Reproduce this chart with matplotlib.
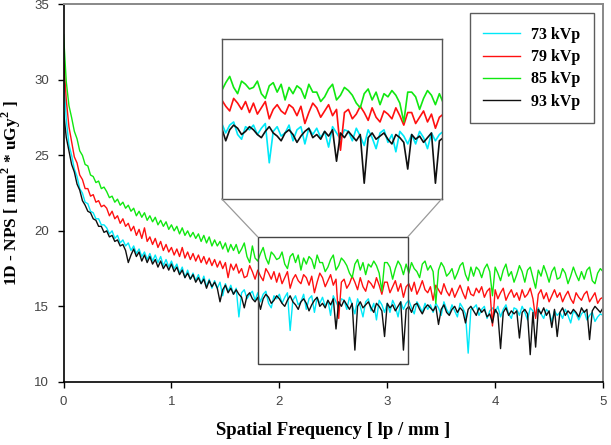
#!/usr/bin/env python3
# -*- coding: utf-8 -*-
import matplotlib

matplotlib.use("Agg")
import matplotlib.pyplot as plt
import numpy as np
from matplotlib.patches import ConnectionPatch, Rectangle

FREQ_STEP = 0.025

nps_73 = [
    30.5, 27.4, 25.7, 25.0, 24.1, 23.6, 22.8, 22.5,
    21.9, 21.8, 21.3, 21.2, 20.8, 20.8, 20.4, 20.4,
    20.2, 19.8, 20.0, 19.5, 19.7, 19.2, 19.4, 19.0,
    19.2, 18.7, 19.0, 18.5, 18.8, 18.3, 18.6, 18.1,
    18.5, 18.0, 18.4, 17.9, 18.3, 17.7, 18.1, 17.6,
    18.0, 17.5, 17.8, 17.2, 17.6, 16.9, 17.4, 16.8,
    17.2, 16.7, 17.1, 16.5, 17.0, 16.3, 16.8, 16.2,
    16.7, 16.2, 16.6, 15.7, 16.5, 16.0, 16.4, 15.8,
    16.2, 14.3, 15.9, 16.1, 15.5, 15.8, 16.0, 15.4,
    15.9, 15.3, 15.8, 16.0, 15.2, 14.9, 15.7, 15.5,
    15.8, 15.2, 15.6, 15.9, 13.4, 15.4, 15.7, 15.1,
    15.3, 15.8, 14.8, 15.5, 15.7, 14.6, 15.6, 15.2,
    15.6, 15.0, 15.4, 14.4, 15.7, 15.3, 14.9, 15.5,
    15.4, 14.8, 15.6, 15.1, 14.5, 15.5, 15.0, 14.3,
    15.3, 15.5, 14.7, 15.2, 14.1, 15.4, 15.1, 14.6,
    15.2, 14.6, 15.4, 15.0, 14.3, 15.3, 14.8, 15.2,
    15.4, 14.9, 14.5, 15.3, 15.0, 14.6, 15.2, 14.8,
    15.1, 14.6, 15.2, 14.9, 14.4, 15.3, 14.8, 14.5,
    15.1, 14.7, 14.3, 15.2, 14.9, 14.5, 11.9, 14.8,
    14.9, 15.1, 14.4, 14.8, 15.0, 14.2, 14.7, 14.9,
    14.6, 15.0, 14.3, 14.8, 15.1, 14.5, 14.2, 14.9,
    14.8, 14.4, 15.0, 14.6, 14.1, 14.9, 14.7, 14.3,
    14.9, 14.5, 14.2, 14.8, 14.6, 14.0, 14.7, 14.4,
    14.6, 14.2, 14.8, 14.4, 13.9, 14.7, 14.5, 14.1,
    14.5, 14.7, 14.1, 14.4, 14.6, 14.0, 14.3, 14.5,
    14.4,
]

nps_79 = [
    31.5, 28.7, 26.9, 25.9, 24.9, 24.5, 23.7, 23.4,
    22.8, 22.8, 22.3, 22.4, 21.9, 22.0, 21.6, 21.7,
    21.5, 21.0, 21.3, 20.8, 21.0, 20.5, 20.8, 20.3,
    20.5, 20.0, 20.3, 19.7, 20.1, 19.5, 20.2, 19.3,
    19.6, 19.1, 19.5, 18.9, 19.3, 18.7, 19.1, 18.6,
    18.9, 18.4, 18.8, 18.3, 18.9, 18.2, 18.6, 18.1,
    18.5, 18.0, 18.4, 17.9, 18.3, 17.8, 18.2, 17.7,
    18.1, 17.6, 18.0, 17.5, 17.9, 16.9, 17.8, 17.4,
    17.8, 17.2, 17.5, 16.9, 17.0, 17.7, 17.3, 16.8,
    17.4, 17.0, 16.7, 17.5, 17.2, 16.8, 17.3, 16.6,
    17.2, 16.5, 16.9, 17.3, 16.2, 16.8, 17.1, 16.7,
    16.5, 17.1, 16.9, 16.4, 17.0, 15.9, 16.6, 17.2,
    16.9, 16.3, 16.7, 17.1, 16.4, 16.8, 14.2, 16.6,
    16.8, 16.2, 16.5, 17.0, 16.6, 16.1, 16.9, 16.3,
    16.0, 16.7, 16.5, 16.2, 16.9, 16.4, 15.8, 16.6,
    16.6, 15.9, 16.3, 16.7, 16.0, 16.5, 15.6, 16.3,
    16.5, 16.0, 16.6, 15.8, 16.2, 16.7, 16.1, 15.9,
    16.3, 15.4, 16.4, 16.1, 15.8, 16.5, 16.0, 15.7,
    16.2, 15.6, 16.0, 16.4, 15.9, 15.5, 16.3, 15.8,
    15.7, 16.2, 15.9, 16.3, 15.6, 16.0, 16.2, 13.7,
    16.1, 15.5, 15.9, 16.2, 15.4, 15.8, 16.1, 15.6,
    15.9, 15.4, 16.1, 15.6, 15.8, 16.2, 15.5, 14.2,
    15.8, 16.1, 15.5, 15.9, 15.3, 15.7, 16.1, 15.6,
    15.9, 15.3, 15.7, 16.0, 15.5, 15.2, 15.9, 15.6,
    15.4, 15.8, 16.0, 15.3, 15.6, 15.9, 15.2, 15.5,
    15.6,
]

nps_85 = [
    33.0, 29.9, 28.3, 27.5, 26.6, 26.1, 25.3, 25.0,
    24.4, 24.3, 23.7, 23.6, 23.2, 23.3, 22.8, 22.9,
    22.6, 22.2, 22.3, 21.9, 22.1, 21.7, 21.9, 21.5,
    21.7, 21.3, 21.5, 21.0, 21.3, 20.9, 21.2, 20.7,
    21.0, 20.6, 20.9, 20.4, 20.7, 20.3, 20.6, 20.1,
    20.4, 20.0, 20.3, 19.8, 20.2, 19.7, 20.0, 19.6,
    19.9, 19.5, 19.8, 19.3, 19.7, 19.2, 19.6, 19.0,
    19.4, 19.0, 19.3, 18.8, 19.2, 18.6, 19.1, 18.7,
    19.1, 18.5, 18.8, 19.2, 18.3, 17.9, 19.0, 18.2,
    18.0, 18.5, 18.9, 18.2, 17.8, 18.6, 18.4, 18.1,
    18.2, 18.6, 17.8, 17.5, 18.3, 18.5, 17.9, 18.4,
    17.4, 18.2, 17.8, 18.3, 18.1, 17.5, 18.4, 17.9,
    17.9, 17.3, 17.6, 18.1, 18.4, 17.4, 17.7, 18.2,
    18.0, 17.7, 17.2, 16.9, 17.8, 18.1, 17.4, 17.9,
    17.1, 17.8, 17.6, 18.0, 17.7, 17.2, 16.0, 17.9,
    17.9, 17.6, 16.8, 17.5, 18.0, 17.7, 17.1, 17.8,
    17.2, 17.9, 17.5, 17.3, 16.9, 17.8, 18.0, 17.4,
    17.7, 17.3, 15.2, 17.4, 17.9, 17.6, 17.0, 17.2,
    17.5, 16.8, 17.2, 17.7, 17.9, 17.1, 16.7, 17.6,
    17.0, 17.6, 17.4, 16.9, 17.5, 17.8, 17.3, 15.7,
    17.6, 17.2, 16.7, 17.4, 17.8, 17.0, 17.3, 16.6,
    17.1, 17.7, 17.3, 16.6, 17.4, 17.6, 16.9, 16.2,
    17.4, 17.0, 17.7, 17.2, 16.6, 17.3, 17.6, 16.8,
    16.9, 17.5, 17.2, 16.5, 17.0, 17.6, 17.1, 16.7,
    17.3, 16.8, 17.4, 17.6, 16.7, 16.5, 17.2, 17.5,
    17.3,
]

nps_93 = [
    27.9, 26.2, 25.3, 24.4, 23.9, 23.1, 22.7, 22.0,
    21.7, 21.3, 21.2, 20.8, 20.7, 20.3, 20.3, 19.9,
    20.0, 19.6, 19.7, 19.3, 19.4, 19.0, 19.1, 18.7,
    17.9, 18.4, 18.8, 18.3, 18.6, 18.0, 18.4, 17.9,
    18.3, 17.8, 18.1, 17.6, 18.0, 17.5, 17.8, 17.4,
    17.8, 17.3, 17.6, 17.1, 17.4, 16.9, 17.2, 16.8,
    17.1, 16.6, 16.9, 16.5, 16.8, 16.2, 16.7, 16.3,
    16.6, 16.2, 15.3, 16.1, 16.4, 15.9, 16.2, 15.8,
    16.1, 15.8, 15.6, 14.9, 15.7, 15.9, 15.5, 15.3,
    15.6, 14.8, 15.5, 15.8, 15.6, 15.2, 15.4, 15.7,
    15.5, 15.2, 15.0, 15.4, 15.7, 15.3, 15.1, 14.8,
    15.3, 15.5, 15.2, 14.7, 15.1, 15.4, 15.6, 15.0,
    15.2, 14.9, 15.4, 15.1, 15.5, 13.5, 15.3, 15.0,
    15.4, 15.1, 14.8, 15.2, 12.1, 15.0, 15.3, 14.9,
    15.1, 15.3, 14.9, 14.6, 15.2, 15.0, 14.7, 13.0,
    15.2, 14.9, 15.1, 14.7, 15.0, 15.3, 12.1, 14.8,
    15.0, 14.6, 15.1, 15.2, 14.8, 14.5, 14.9, 15.1,
    14.9, 14.7, 15.0, 13.8, 14.8, 15.1, 14.6, 14.4,
    14.8, 15.0, 14.6, 14.9, 14.7, 13.9, 14.8, 15.0,
    14.7, 14.4, 14.9, 14.6, 14.8, 14.3, 14.5, 13.9,
    14.8, 14.5, 12.2, 14.6, 14.9, 14.4, 14.7, 14.5,
    14.7, 12.9, 14.6, 14.8, 14.5, 11.8, 14.6, 12.3,
    14.8, 14.5, 14.9, 14.4, 14.7, 13.6, 14.8, 13.0,
    14.6, 14.9, 14.4, 14.7, 14.5, 14.8, 14.6, 14.3,
    14.9, 14.6, 14.8, 12.8, 14.7, 15.0, 14.8, 14.6,
    14.9,
]

labels = ["73 kVp", "79 kVp", "85 kVp", "93 kVp"]
colors = ["#00e8f8", "#ff1010", "#10e810", "#101010"]

# region shown magnified in the inset
ZOOM_X = (1.8, 3.19)
ZOOM_Y = (11.2, 19.6)

SERIF = "Liberation Serif"
SANS = "Liberation Sans"

plt.rcParams["mathtext.fontset"] = "custom"
plt.rcParams["mathtext.rm"] = SERIF
plt.rcParams["mathtext.bf"] = SERIF + ":bold"


def draw_curves(ax, lw):
    series = [nps_73, nps_79, nps_85, nps_93]
    for vals, lab, clr in zip(series, labels, colors):
        freq = np.arange(len(vals)) * FREQ_STEP
        ax.plot(freq, vals, color=clr, lw=lw, label=lab)


fig = plt.figure(figsize=(6.11, 4.45), dpi=100)
ax = fig.add_axes([0.104, 0.142, 0.883, 0.848])
draw_curves(ax, 1.0)

ax.set_xlim(0, 5)
ax.set_ylim(10, 35)
ax.set_xticks(range(0, 6))
ax.set_yticks(range(10, 36, 5))
ax.tick_params(direction="out", length=4.5, width=1, colors="black",
               labelcolor="#444444", labelsize=9.5, pad=6)
for t in ax.get_xticklabels() + ax.get_yticklabels():
    t.set_fontfamily(SANS)
for side in ["left", "bottom"]:
    ax.spines[side].set_color("black")
    ax.spines[side].set_linewidth(1.2)
for side in ["top", "right"]:
    ax.spines[side].set_color("#888888")
    ax.spines[side].set_linewidth(1.4)

ax.set_xlabel("Spatial Frequency [ lp / mm ]", family=SERIF, weight="bold",
              fontsize=13.5, labelpad=10)
ax.set_ylabel(r"1D - NPS [ mm$^{\mathbf{2}}$ * uGy$^{\mathbf{2}}$ ]", family=SERIF,
              weight="bold", fontsize=12.5, labelpad=8)

leg = ax.legend(loc="upper right", bbox_to_anchor=(0.983, 0.977), borderaxespad=0,
                frameon=True, fancybox=False, edgecolor="#333333",
                handlelength=2.3, handletextpad=0.7, borderpad=0.85,
                labelspacing=0.4,
                prop={"family": SERIF, "weight": "bold", "size": 11.5})
leg.get_frame().set_linewidth(1.0)

# zoom box on the main axes
ax.add_patch(Rectangle((ZOOM_X[0], ZOOM_Y[0]), ZOOM_X[1] - ZOOM_X[0],
                       ZOOM_Y[1] - ZOOM_Y[0], fill=False, ec="#444444", lw=1.0,
                       zorder=5))

# magnified inset
axin = fig.add_axes([0.363, 0.553, 0.360, 0.360])
draw_curves(axin, 1.2)
axin.set_xlim(*ZOOM_X)
axin.set_ylim(11.1, 21.3)
axin.set_xticks([])
axin.set_yticks([])
for sp in axin.spines.values():
    sp.set_color("#555555")
    sp.set_linewidth(1.0)

for corner, xz in [((0, 0), ZOOM_X[0]), ((1, 0), ZOOM_X[1])]:
    con = ConnectionPatch(xyA=corner, coordsA=axin.transAxes,
                          xyB=(xz, ZOOM_Y[1]), coordsB=ax.transData,
                          color="#999999", lw=0.9)
    fig.add_artist(con)

fig.savefig("out.png", dpi=100)
